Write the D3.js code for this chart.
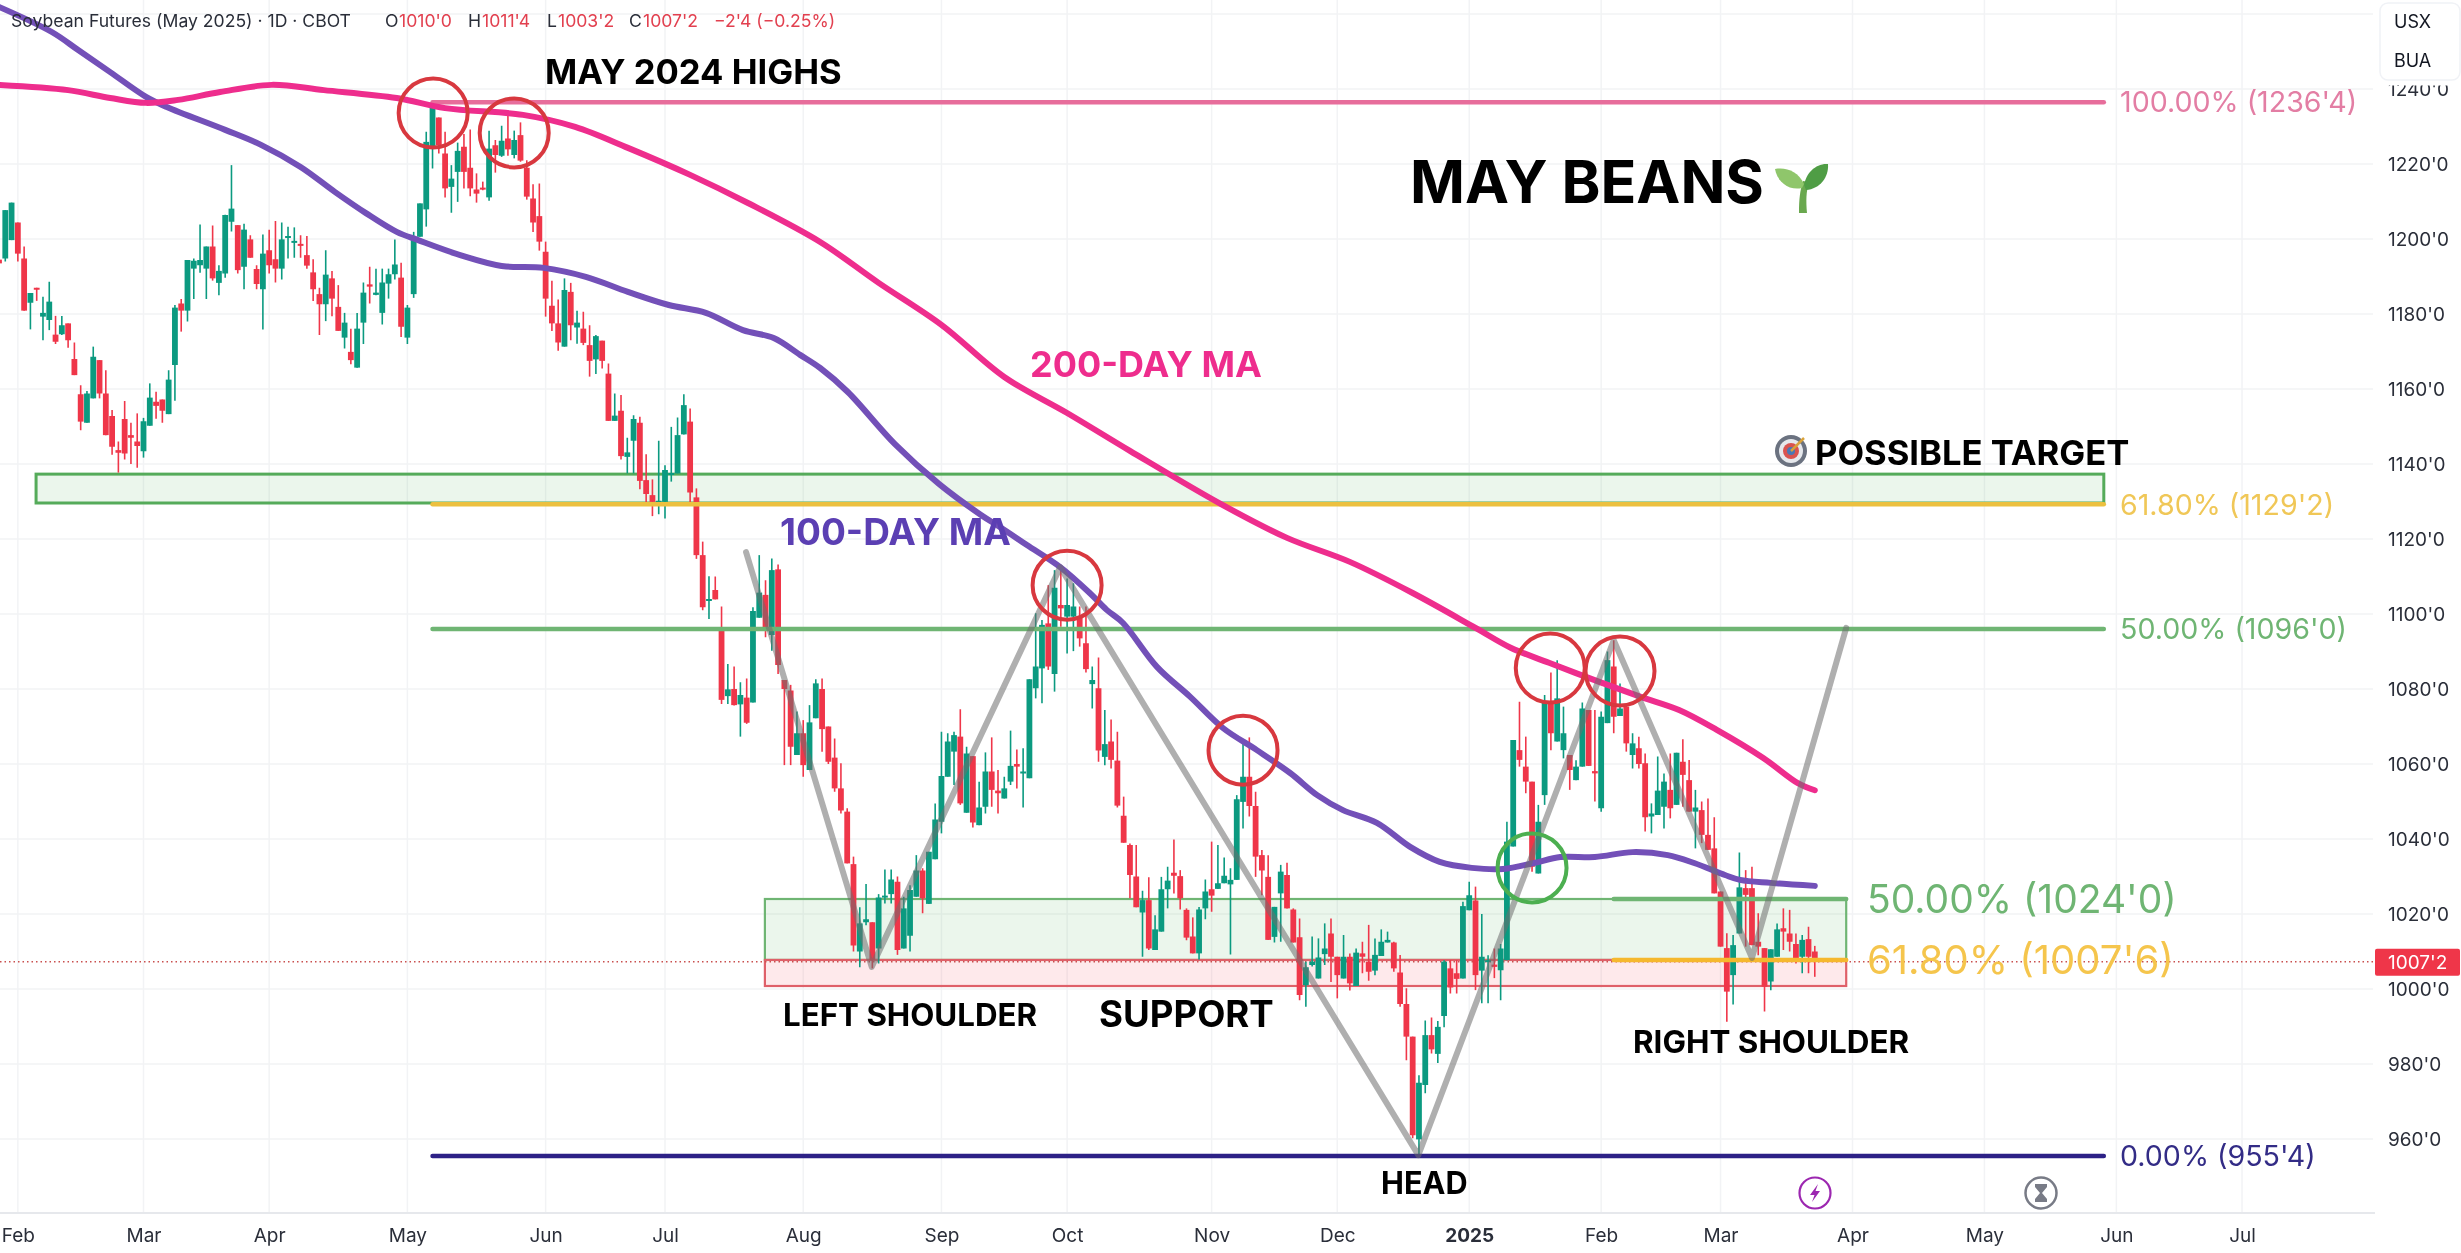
<!DOCTYPE html>
<html><head><meta charset="utf-8">
<style>
html,body{margin:0;padding:0;background:#fff;overflow:hidden}
svg{display:block;font-family:Inter,"Liberation Sans",sans-serif;filter:blur(.4px)}
.axis text{font-family:Inter,sans-serif;fill:#2a2e39;font-size:19px}
.axis path,.axis line{display:none}
.fib{font-size:28.6px;font-weight:400}
.note{font-weight:700;fill:#000}
</style>
<script src="https://cdnjs.cloudflare.com/ajax/libs/d3/7.9.0/d3.min.js"></script>
</head><body><svg id="chart" width="2461" height="1253"></svg>
<script>
const open=[1194.5,1194.8,1199.7,1204.4,1194.8,1183,1187,1179.3,1178.4,1174.5,
1174.6,1177.5,1168,1158.6,1151,1157.5,1167.7,1158.8,1152.8,1143.7,
1152,1147.7,1146,1143.4,1150.2,1156.6,1157.2,1153.3,1166.4,1182.8,
1180.9,1192.1,1193,1192.1,1198,1188.3,1190.8,1204.6,1203.7,1192.6,
1199.9,1192,1186.6,1197,1194.6,1192.1,1200.4,1199.2,1198.7,1195.7,
1191.1,1185.3,1182.6,1189.5,1181.9,1173.7,1169.9,1165.7,1177.7,1187.9,
1185.1,1180.3,1188.1,1190.6,1189.7,1173.7,1185.3,1200.6,1207.9,1224.6,
1232.4,1222.8,1213.9,1217.9,1224.6,1219,1213.2,1213.7,1211.1,1225,
1222.2,1226.8,1222.4,1227.7,1219,1210.8,1206.1,1196.6,1182.2,1177.5,
1171.3,1185.9,1176.4,1176.1,1171.7,1167.9,1172.9,1164.1,1151.5,1154.2,
1141.9,1146.2,1151,1135.7,1131.7,1129.5,1129.9,1137.4,1137.5,1147.9,
1151.3,1131.1,1115.7,1103.9,1106.4,1096.2,1078.1,1080,1075.9,1077.7,
1076.4,1099,1105.1,1094.4,1111.9,1082.4,1079.6,1062.4,1068.2,1058.4,
1072.2,1080,1070,1061.7,1053.5,1047.3,1033.3,1010,1017.8,1017.8,
1010.8,1024.4,1025.3,1028.6,1010.8,1014.2,1024.6,1031.6,1022.7,1034.6,
1044.6,1056.6,1063.3,1067.3,1047,1062.1,1043.7,1048.6,1058,1052.9,
1050.8,1055.3,1060,1057.7,1056.2,1080.2,1085.5,1097.5,1084,1102.4,
1099.3,1099.3,1099.3,1092.2,1081.3,1080.2,1061.9,1066,1060.9,1046.2,
1038.4,1030,1020.4,1023.7,1010.4,1015.3,1026.6,1031,1030.1,1021.1,
1014,1009.5,1021.5,1026.6,1026.7,1028.2,1027.9,1029.1,1049.9,1056.6,
1048.8,1035.7,1029.9,1013.9,1025.5,1030.4,1021.2,1013.8,1001,1006.4,
1002.8,1009.3,1014.8,1008.6,1002.8,1008.6,1000.8,1009.5,1007.3,1004.9,
1008.8,1012.4,1012.4,1004.4,996,987.3,959.9,974.4,987.7,982.7,
992.8,1005.5,1004.2,1002.8,1021,1023.6,1004.9,1007.2,1006.5,1005,
1007.7,1038,1063.7,1059.3,1055.3,1030.8,1051.7,1076.6,1066,1063.7,
1062.4,1055.7,1059.3,1074.4,1058.1,1048.2,1070.9,1086,1072.8,1075.3,
1062.4,1064.2,1060.2,1046,1046.4,1048.6,1053.1,1049.1,1060.6,1055.7,
1047.3,1047.7,1041.1,1037.5,1026,1010.9,1003.7,1014.8,1026.9,1026.9,
1012.6,1010.9,1002,1008.6,1016.2,1014.8,1012,1008.6,1013.3,1010];
const high=[1194.5,1207.7,1209.7,1204.4,1198,1185.6,1187,1184.6,1188.6,1179.5,
1179.5,1177.5,1172.4,1161,1159.5,1171.3,1167.7,1165,1154.4,1146,
1156.8,1151,1153.5,1152.3,1161.5,1159.3,1157.2,1165,1182.4,1184,
1194.4,1194.8,1203.9,1198,1203.6,1193,1206.5,1219.7,1203.7,1204.1,
1201,1193,1201.2,1202.5,1204.8,1204.4,1203.3,1203.1,1201,1200.8,
1194.6,1187,1197,1191.5,1187.7,1180.3,1176.1,1180.3,1188.4,1192.6,
1192.1,1192.1,1192.1,1199.9,1193.7,1182.4,1201.9,1209.5,1228.6,1236.5,
1232.4,1228.6,1219.7,1225.7,1228,1229.2,1217.5,1215.3,1228.9,1226.4,
1230.2,1234.2,1228.9,1231.1,1221,1214.6,1214.8,1199.3,1188.9,1183.9,
1189.5,1188.3,1180.9,1180.6,1177,1174.4,1172.9,1166.8,1158.8,1158.4,
1147,1153,1152.6,1142.6,1135.9,1146.2,1139.7,1149.9,1152.4,1158.6,
1154.8,1133.5,1119.3,1110.1,1110,1102,1086.7,1086,1081.8,1082.8,
1101.8,1115.7,1109,1114.8,1113.2,1082.4,1081.1,1074,1071.7,1075.7,
1082.6,1082.8,1070,1066.8,1060.2,1048.2,1035.3,1021.8,1028,1017.8,
1025.3,1031.9,1031.9,1030,1024.6,1027.7,1035.7,1032.2,1036.6,1049.5,
1068.6,1068.2,1068.6,1074.6,1064.6,1062.1,1055.3,1063.1,1067.1,1058.4,
1056.6,1068.9,1063.9,1064.2,1082.6,1100.2,1098.4,1107.7,1111.7,1112.6,
1109.5,1108.2,1102,1102,1086,1088.4,1074.4,1071.9,1068.6,1051.3,
1038.8,1038.4,1026.2,1029.8,1019.7,1029.9,1032.6,1039.9,1031.7,1021.5,
1019.1,1021.9,1029.2,1039.3,1038.4,1035.1,1032.2,1051.7,1065.5,1067.1,
1052.6,1037.1,1035.7,1021.9,1033.1,1033.7,1021.5,1018.8,1007.3,1014,
1013.5,1017.5,1018.8,1008.6,1014.4,1009.5,1010.8,1012.6,1017.1,1013.5,
1015.9,1015.3,1012.6,1009.1,1000.2,987.3,977,991.6,992.4,991.5,
1007.7,1007.7,1007.7,1023.3,1028.6,1027.3,1020,1009,1010.8,1012,
1044.6,1066.4,1076.6,1067.3,1055.3,1049.1,1078.4,1084.4,1087.7,1075.3,
1062.4,1061,1076.4,1074.4,1074.4,1074,1090,1093,1081.5,1075.3,
1068.2,1067.3,1062.8,1049.5,1062,1057.5,1062.8,1063,1066.6,1061.1,
1053.1,1050,1050.8,1045.8,1026,1014.9,1014.4,1036.4,1031.7,1032.6,
1020.2,1010.9,1010.6,1017.5,1021.5,1021.1,1014.8,1014.4,1016.6,1011.5];
const low=[1189,1194,1199.7,1194,1180.9,1175.9,1183.5,1173,1175.7,1172,
1174.4,1171,1163.7,1149,1151,1157.5,1157.5,1147.7,1142.5,1137.7,
1141.2,1140,1139,1141.7,1150.2,1152.1,1151,1153.3,1156.9,1175.3,
1178,1184,1191,1184,1188.9,1185,1189.7,1202,1190.8,1186.6,
1195,1186.6,1175.9,1190.8,1188.4,1189.2,1194.8,1195,1195,1192.1,
1183.5,1174.4,1178.1,1179.4,1175.5,1170.8,1166.6,1165.7,1172,1182.8,
1185,1177.2,1184.1,1189.2,1173.9,1172,1184.3,1200.6,1203.3,1218.8,
1222.8,1211.1,1207,1209.9,1213.5,1211.4,1209.7,1213,1210.2,1217.7,
1221.9,1222.2,1221.5,1220.6,1210.5,1201.9,1196.9,1179.3,1175.5,1170.2,
1171.3,1173,1172.1,1171.7,1163.3,1164,1165.5,1151.5,1151.5,1141.2,
1137.5,1137.5,1133.3,1129.7,1126.1,1126.6,1125.5,1135.3,1137.5,1147.9,
1129.5,1114.7,1101,1098.7,1103.9,1076,1076,1075.6,1067.3,1070.7,
1076.4,1099,1093.8,1090.2,1084,1059.7,1059.7,1062.4,1056.6,1058.4,
1072.2,1063.3,1060,1052.6,1046.8,1033.5,1010,1005.8,1017,1005.5,
1006.8,1022.8,1022.8,1009.1,1010.8,1010,1024.6,1020.2,1022.7,1034.6,
1041.5,1056.6,1054.4,1049.1,1047,1043.1,1043.7,1046.8,1048.6,1046.8,
1050.8,1054.4,1053.5,1048.4,1056.2,1077.5,1076.2,1085.1,1079.3,1096.6,
1089.5,1090.1,1091.3,1084.4,1074.8,1060.6,1059.7,1058.8,1048.4,1039,
1024.2,1021.8,1008.6,1010.4,1010.4,1015.3,1021.5,1025.5,1021.2,1013,
1009.5,1007.9,1018.6,1020.6,1026.7,1028.2,1009.2,1029.1,1042.8,1046,
1029.9,1025,1013.1,1012.4,1012.6,1021.5,1012.4,997,995.3,1006,
1002.8,1006.4,1001.9,997.5,1002.8,999.6,1000.8,1004.2,1002.2,1003.7,
1008.8,1012.4,1004.6,995.3,981,960.2,955.5,972.2,982.8,980.3,
989.8,998.8,998.8,1002.8,1021,999.7,996.2,996.2,1002.9,997,
1007.7,1038,1059.3,1052.2,1031.3,1030.8,1049.1,1063.7,1066,1061.5,
1053.1,1055.7,1059.3,1059.5,1050,1047.3,1070.9,1068.2,1072.8,1063.3,
1058.8,1058.8,1042,1041.5,1046.4,1042.8,1045.5,1049.1,1048.6,1047.3,
1037.5,1038.9,1037.1,1025.5,1011.3,991.3,995.9,1014.8,1011.3,1011.7,
1009,994,999.7,1008.6,1010.4,1010,1006.8,1004.2,1004.2,1003.25];
const close=[1193.5,1207.7,1209.7,1196.1,1180.9,1185.6,1186.7,1180.3,1183.3,1172.6,
1177,1173,1163.7,1151.3,1158.8,1168.6,1158.8,1147.7,1144.6,1143,
1142.8,1147,1144.8,1151.4,1157.7,1155.5,1154.2,1162.5,1181.7,1180.9,
1194.4,1194.2,1194.4,1198,1189.5,1191.5,1206.4,1208.1,1191.7,1202.5,
1195,1188,1196.1,1193,1192.1,1199.9,1200.8,1199.5,1198.4,1192.9,
1186.6,1182.6,1190.5,1184.1,1175.5,1177.7,1167.7,1176.1,1185.7,1187.3,
1185.7,1188.4,1190.6,1193.2,1176.6,1181.7,1199.7,1209.5,1225.9,1235.4,
1225,1213.5,1216.1,1223.5,1217.9,1213.5,1212.1,1213.4,1224.1,1222.4,
1226.2,1223.9,1226.4,1220.9,1211.3,1204.4,1199.3,1184.1,1177.5,1172.4,
1186.4,1177,1177.7,1172.3,1167.5,1174.1,1167.5,1151.5,1152.9,1142.1,
1143.1,1152,1135.5,1132,1129.9,1130.2,1138.4,1137.6,1147.7,1155.7,
1132.4,1115.7,1101.8,1104,1103.9,1077.1,1079.9,1075.7,1078.4,1071,
1100.8,1105.7,1095.7,1111.7,1086.4,1080,1064.6,1068.2,1059.7,1071.1,
1081.5,1069.3,1060.6,1053.5,1047.6,1033.5,1011.6,1017.5,1018.6,1007.7,
1024.4,1024.9,1029.2,1010.4,1021.5,1026.4,1031.6,1024.2,1036.6,1045.2,
1056.8,1066,1067.7,1049.5,1062.8,1044.4,1048.4,1058,1053.1,1052.2,
1053.5,1059.5,1059.3,1058,1082.6,1086,1097.1,1086,1107,1101.5,
1102.4,1102,1093.5,1085.3,1082.4,1063.6,1065.3,1061.1,1048.9,1039,
1030.4,1021.8,1023.7,1010.8,1015.9,1026.6,1028.9,1030.2,1024.2,1013.7,
1009.5,1021.2,1026,1024.9,1028.2,1030.2,1029.1,1050.6,1056.6,1048.8,
1035.3,1031.6,1013.1,1021.9,1031.3,1021.5,1012.4,998.4,1005.8,1007.3,
1008.4,1010.8,1008.6,1003.7,1008.6,1001.5,1009.7,1008.6,1004.6,1009.1,
1012.6,1013.1,1005.5,996,987.3,961,975,987.7,983.9,989.9,
1007.3,1000.4,1002.7,1022.1,1025,1003.7,1008.6,1007.7,1005.9,1010.8,
1039.3,1066.4,1061.1,1055.3,1032.6,1044.6,1076.6,1068.2,1077.5,1068.2,
1058.4,1059.3,1074.8,1059.5,1057.5,1072.6,1087.7,1072.6,1074.8,1065.5,
1065.5,1060,1045.8,1046.8,1052.9,1055.3,1048.2,1063,1057.1,1047.3,
1048.4,1041.1,1037.1,1025.5,1011.3,999.3,1011.7,1027.1,1025.1,1011.7,
1011.3,1000.6,1010.6,1015.9,1015.3,1012.6,1008.2,1013.1,1008.6,1007.25];

const ma100Idx=[0,8.4,12.6,17.7,23.4,26.7,36,41.7,48,53.5,58.4,63.3,66.7,73.4,80,86.7,93.4,100.1,106.6,112.5,118.4,123.3,127.5,130.7,135.1,142.6,149.6,156.3,159.3,163.6,168.9,173.6,176.3,178.9,184.3,189.6,194.8,200.2,205.5,209.8,213.9,219.3,224.6,229.3,234.4,239.4,244.3,248.5,254,260,265.6,269.8,274.7,277.1,282,289];
const ma100Val=[1261.9,1255.2,1250.4,1244.5,1237.9,1235.2,1229.1,1225.1,1219.2,1212.5,1206.9,1201.9,1199.7,1195.7,1192.8,1192.3,1189.9,1185.9,1182.4,1180.3,1175.7,1173.6,1169.1,1165.6,1159.2,1145.3,1134.7,1126.4,1123.2,1118.4,1112.5,1105.6,1101.1,1097.6,1085.9,1077.9,1069.6,1063.7,1057.6,1051.7,1047.7,1044.3,1037.9,1033.9,1032.3,1032,1033.6,1035.2,1035.2,1036.5,1035.7,1033.6,1030.4,1029.1,1028.3,1027.5];
const ma200Idx=[0,11,17.7,23.4,28.5,35.2,43.4,51.7,63.3,71,83.4,91.7,100.1,110,119.2,130.7,140,150,160,170,180,194.5,205,215,225,235,240.6,246.7,254.7,261.3,267.4,273.4,280.8,286.3,289];
const ma200Val=[1241.1,1239.7,1237.6,1236.3,1237.1,1239.2,1241.1,1239.7,1237.6,1234.9,1233.1,1229.9,1224.3,1217.1,1209.6,1199.2,1188.3,1177.1,1163.2,1153.6,1143.5,1129.3,1120.3,1113.9,1105.6,1096.3,1091,1087,1081.9,1077.9,1074.4,1069.1,1061.6,1054.9,1053];

const zigzagIdx=[118.9,138.9,168.9,225.9,257,279,294];
const zigzagVal=[1116.5,1005.9,1112.5,955.7,1093,1008.3,1096.3];

const priceTicks=[1260,1240,1220,1200,1180,1160,1140,1120,1100,1080,1060,1040,1020,1000,980,960];
const monthIdx=[3,23,43,65,87,106,128,150,170,193,213,234,255,274,295,316,337,357];
const monthNames=["Feb","Mar","Apr","May","Jun","Jul","Aug","Sep","Oct","Nov","Dec","2025","Feb","Mar","Apr","May","Jun","Jul"];

const fibStart=69, fibEnd=335, fib2Start=257, fib2End=294;
const fibLevels=[1236.5,1129.25,1096,955.5];
const fibColors=["#e76d9b","#ecc03f","#6fb573","#2d2186"];
const fibLabels=["100.00% (1236'4)","61.80% (1129'2)","50.00% (1096'0)","0.00% (955'4)"];
const fibLabelColors=["#e37ea4","#f0c757","#6fb573","#332c86"];
const fib2Levels=[1024,1007.75];
const fib2Colors=["#6fb573","#f5b82e"];
const fib2Labels=["50.00% (1024'0)","61.80% (1007'6)"];
const fib2LabelColors=["#6fb573","#f5c54c"];

const circleIdx=[69.1,82,170,198,246.9,258,244];
const circleVal=[1233.6,1228.3,1107.7,1063.7,1085.6,1084.8,1032.3];
const circleColors=["#d8383f","#d8383f","#d8383f","#d8383f","#d8383f","#d8383f","#4caf50"];

const svg=d3.select("#chart");
const W=2461,H=1253,plotR=2373,plotB=1213;
const x=d3.scaleLinear().domain([0,289]).range([-1,-1+289*6.283]);
const y=d3.scaleLinear().domain([1240,960]).range([89,1139]);

// grid
const grid=svg.append("g");
grid.selectAll("line.h").data(priceTicks).join("line").attr("class","h").attr("x1",0).attr("x2",plotR)
 .attr("y1",d=>y(d)).attr("y2",d=>y(d)).attr("stroke","#f2f3f5").attr("stroke-width",1.5);
grid.selectAll("line.v").data(monthIdx).join("line").attr("class","v").attr("y1",0).attr("y2",plotB)
 .attr("x1",d=>x(d)).attr("x2",d=>x(d)).attr("stroke","#f2f3f5").attr("stroke-width",1.5);

// zones
function zone(i0,i1,hi,lo,fill,stroke,sw){
 svg.append("rect").attr("x",x(i0)).attr("width",x(i1)-x(i0)).attr("y",y(hi)).attr("height",y(lo)-y(hi))
  .attr("fill",fill).attr("stroke",stroke).attr("stroke-width",sw);
}
zone(5.9,335,1137.3,1129.6,"rgba(76,175,80,.11)","#55ab5a",3);
zone(121.9,294,1024,1007.75,"rgba(76,175,80,.11)","#6fb573",2.2);
zone(121.9,294,1007.75,1000.8,"rgba(242,54,69,.11)","#df6069",2.2);

// last price line
svg.append("line").attr("x1",0).attr("x2",2375).attr("y1",y(close[289])).attr("y2",y(close[289]))
 .attr("stroke","#c9504f").attr("stroke-width",1.4).attr("stroke-dasharray","1.5 3");

// candles
const idx=d3.range(open.length);
const col=i=>close[i]>=open[i]?"#0b9a80":"#ef3649";
const cg=svg.append("g");
cg.selectAll("line").data(idx).join("line").attr("x1",x).attr("x2",x)
 .attr("y1",i=>y(high[i])).attr("y2",i=>y(low[i])).attr("stroke",col).attr("stroke-width",1.6);
cg.selectAll("rect").data(idx).join("rect").attr("x",i=>x(i)-2.9).attr("width",5.8)
 .attr("y",i=>y(Math.max(open[i],close[i])))
 .attr("height",i=>Math.max(2,Math.abs(y(open[i])-y(close[i])))).attr("fill",col);

// fib lines
svg.append("g").selectAll("line").data(fibLevels).join("line")
 .attr("x1",x(fibStart)).attr("x2",x(fibEnd)).attr("y1",d=>y(d)).attr("y2",d=>y(d))
 .attr("stroke",(d,i)=>fibColors[i]).attr("stroke-width",4.5).attr("stroke-linecap","round");
svg.append("g").selectAll("text").data(fibLabels).join("text").attr("class","fib")
 .attr("x",2120).attr("y",(d,i)=>y(fibLevels[i])).attr("dy","0.36em")
 .attr("fill",(d,i)=>fibLabelColors[i]).text(d=>d);
svg.append("g").selectAll("line").data(fib2Levels).join("line")
 .attr("x1",x(fib2Start)).attr("x2",x(fib2End)).attr("y1",d=>y(d)).attr("y2",d=>y(d))
 .attr("stroke",(d,i)=>fib2Colors[i]).attr("stroke-width",4.5).attr("stroke-linecap","round");
svg.append("g").selectAll("text").data(fib2Labels).join("text")
 .attr("x",1867).attr("y",(d,i)=>y(fib2Levels[i])).attr("dy","0.36em")
 .style("font-size",(d,i)=>i?"40px":"39px").attr("fill",(d,i)=>fib2LabelColors[i]).text(d=>d);

// moving averages
const line=d3.line().curve(d3.curveCatmullRom.alpha(.5));
svg.append("path").attr("d",line(ma100Idx.map((d,i)=>[x(d),y(ma100Val[i])])))
 .attr("fill","none").attr("stroke","#7350b8").attr("stroke-width",6).attr("stroke-linecap","round");
svg.append("path").attr("d",line(ma200Idx.map((d,i)=>[x(d),y(ma200Val[i])])))
 .attr("fill","none").attr("stroke","#ee2d8d").attr("stroke-width",6).attr("stroke-linecap","round");

// zigzag
svg.append("path").attr("d",d3.line()(zigzagIdx.map((d,i)=>[x(d),y(zigzagVal[i])])))
 .attr("fill","none").attr("stroke","rgba(110,110,110,.55)").attr("stroke-width",6)
 .attr("stroke-linecap","round").attr("stroke-linejoin","round");

// circles
svg.append("g").selectAll("circle").data(circleIdx).join("circle")
 .attr("cx",d=>x(d)).attr("cy",(d,i)=>y(circleVal[i])).attr("r",34.5)
 .attr("fill","none").attr("stroke",(d,i)=>circleColors[i]).attr("stroke-width",4);

// notes
const notes=[["MAY 2024 HIGHS",545,72,34.6],["MAY BEANS",1410,182,59],["POSSIBLE TARGET",1815,453,34.6],
 ["LEFT SHOULDER",783,1015,31.3],["SUPPORT",1099,1014,36.6],["RIGHT SHOULDER",1633,1042,31.4],["HEAD",1381,1183,30.7]];
svg.append("g").selectAll("text").data(notes).join("text").attr("class","note")
 .attr("x",d=>d[1]).attr("y",d=>d[2]).attr("dy","0.36em").style("font-size",d=>d[3]+"px").text(d=>d[0]);
svg.append("text").attr("class","note").attr("x",1030).attr("y",364).attr("dy","0.36em")
 .style("font-size","36px").style("fill","#ee2d8d").text("200-DAY MA");
svg.append("text").attr("class","note").attr("x",780).attr("y",532).attr("dy","0.36em")
 .style("font-size","37px").style("fill","#5b3fb3").text("100-DAY MA");

// seedling
const sp=svg.append("g").attr("transform","translate(1802,187)");
sp.append("path").attr("d","M-3 26 C-3 12 -2 4 1 -6 L7 -5 C4 5 4 14 5 26 Z").attr("fill","#6aa84f");
sp.append("path").attr("d","M2 -3 C-4 -16 -16 -20 -27 -18 C-25 -6 -14 4 0 1 Z").attr("fill","#8fc66b");
sp.append("path").attr("d","M2 -2 C4 -14 14 -24 26 -23 C27 -10 18 2 4 3 Z").attr("fill","#4f9d45");

// target
const tg=svg.append("g").attr("transform","translate(1791,451)");
tg.append("circle").attr("r",16).attr("fill","#6b7280");
tg.append("circle").attr("r",12).attr("fill","#e6e8ec");
tg.append("circle").attr("r",8).attr("fill","#d9534f");
tg.append("circle").attr("r",4).attr("fill","#4a78b5");
tg.append("path").attr("d","M0 0 L13 -13").attr("stroke","#d9a23a").attr("stroke-width",2.5);

// axes
const ay=d3.axisRight(y).tickValues(priceTicks.filter(d=>d<=1240)).tickSize(0).tickPadding(0).tickFormat(d=>`${d}'0`);
svg.append("g").attr("class","axis").attr("transform","translate(2388,0)").call(ay);
const ax=d3.axisBottom(x).tickValues(monthIdx).tickSize(0).tickPadding(0).tickFormat((d,i)=>monthNames[i]);
const axG=svg.append("g").attr("class","axis").attr("transform","translate(0,1228)").call(ax);
axG.selectAll("text").style("font-weight",(d,i)=>monthNames[i]==="2025"?"700":"400");
svg.append("line").attr("x1",0).attr("x2",2375).attr("y1",plotB).attr("y2",plotB).attr("stroke","#e6e8ec").attr("stroke-width",2);

// currency box (its white margin hides the top of the 1240 tick label)
svg.append("rect").attr("x",2376).attr("y",0).attr("width",85).attr("height",85.5).attr("fill","#fff");
svg.append("rect").attr("x",2380).attr("y",3).attr("width",80).attr("height",77).attr("rx",8)
 .attr("fill","#fff").attr("stroke","#f0f2f6").attr("stroke-width",1.5);
svg.append("text").attr("x",2394).attr("y",22).attr("dy","0.36em").style("font-size","18px").attr("fill","#131722").text("USX");
svg.append("text").attr("x",2394).attr("y",61).attr("dy","0.36em").style("font-size","18px").attr("fill","#131722").text("BUA");

// price tag
svg.append("rect").attr("x",2375).attr("y",y(close[289])-13).attr("width",85).attr("height",27).attr("rx",2).attr("fill","#ef3649");
svg.append("text").attr("x",2388).attr("y",y(close[289])).attr("dy","0.36em").style("font-size","19px").attr("fill","#fff").text("1007'2");

// header
const hdr=[["Soybean Futures (May 2025) · 1D · CBOT",11,"#2a2e39"],["O",385,"#2a2e39"],["1010'0",399,"#e2404f"],["H",468,"#2a2e39"],["1011'4",482,"#e2404f"],
 ["L",547,"#2a2e39"],["1003'2",558,"#e2404f"],["C",629,"#2a2e39"],["1007'2",643,"#e2404f"],["−2'4 (−0.25%)",714,"#e2404f"]];
svg.append("g").selectAll("text").data(hdr).join("text").attr("x",d=>d[1]).attr("y",21).attr("dy","0.36em")
 .style("font-size","17.6px").attr("fill",d=>d[2]).text(d=>d[0]);

// icons
const bolt=svg.append("g").attr("transform","translate(1815,1193)");
bolt.append("circle").attr("r",15.5).attr("fill","#fff").attr("stroke","#9c27b0").attr("stroke-width",2.2);
bolt.append("path").attr("d","M3 -9 L-5 2 L-0.5 2 L-3 9 L5 -2 L0.5 -2 Z").attr("fill","#9c27b0");
const hour=svg.append("g").attr("transform","translate(2041,1193)");
hour.append("circle").attr("r",15.5).attr("fill","#fff").attr("stroke","#787b86").attr("stroke-width",2.5);
hour.append("path").attr("d","M-6 -9 H6 V-6 L1 0 L6 6 V9 H-6 V6 L-1 0 L-6 -6 Z").attr("fill","#787b86");
</script></body></html>
